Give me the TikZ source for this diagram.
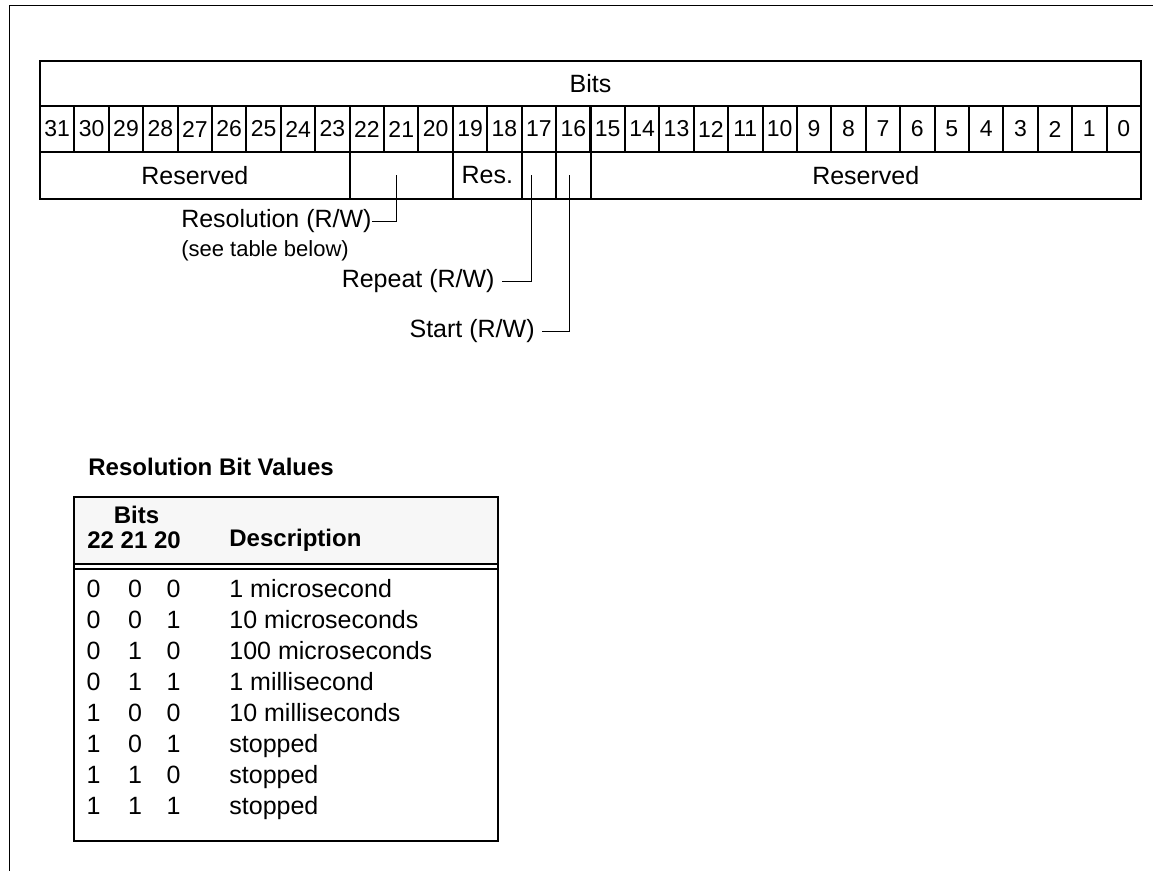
\documentclass[tikz,border=0pt]{standalone}
\usepackage{fontspec}
\setmainfont{Liberation Sans}
\usetikzlibrary{positioning, calc}

\begin{document}
\begin{tikzpicture}[
    x=0.5pt, y=-0.5pt,
    font=\fontsize{12.5}{15}\selectfont,
    field/.style={draw, line width=1pt, inner sep=0pt, minimum height=#1},
    cell/.style={draw, line width=1pt, inner sep=0pt, minimum width=17.2pt, minimum height=23pt,
      font=\fontsize{11.5}{14}\selectfont},
    leader/.style={line width=0.5pt},
    lbl/.style={inner sep=0pt, anchor=east, text height=0.72em, text depth=0.21em},
    note/.style={inner sep=0pt, font=\fontsize{11}{13}\selectfont},
    hdr/.style={inner sep=0pt, font=\fontsize{12}{14}\selectfont\bfseries},
    val/.style={inner sep=0pt, text height=0.72em, text depth=0.21em},
  ]
  \useasboundingbox (0,0) rectangle (1153,871);

  % Page frame (top and left edge only)
  \draw[line width=0.5pt] (9,871) -- (9,6) -- (1153,6);

  % Register - header row
  \node[field=22.5pt, minimum width=550.5pt] (bits_hdr) at (590.5,83.5) {Bits};

  % Register - bit numbers
  \foreach \b in {0,...,31}
    \node[cell] (b\b) at ({40+(31-\b+0.5)*34.406},129) {\b};

  % Register - fields
  \node[field=23.5pt, minimum width=154.85pt] (rsvd_hi) at (194.85,175.5) {Reserved};
  \node[field=23.5pt, minimum width=51.6pt] (res_field) at (401.3,175.5) {};
  \node[field=23.5pt, minimum width=34.4pt] (rsvd_mid) at (487.3,175.5) {Res.};
  \node[field=23.5pt, minimum width=17.2pt] (rep_field) at (538.9,175.5) {};
  \node[field=23.5pt, minimum width=17.2pt] (start_field) at (573.3,175.5) {};
  \node[field=23.5pt, minimum width=275.25pt] (rsvd_lo) at (865.75,175.5) {Reserved};

  % Field labels
  \node[lbl] (res_lbl) at (372,222) {Resolution (R/W)};
  \node[note, below=4pt of res_lbl.south west, anchor=north west] (res_note) {(see table below)};
  \node[lbl] (rep_lbl) at (495,282) {Repeat (R/W)};
  \node[lbl] (start_lbl) at (535,332) {Start (R/W)};

  % Leader lines
  \draw[leader] ([xshift=-2.3pt]res_field.center) |- (res_lbl.east);
  \draw[leader] ([xshift=-3.6pt]rep_field.center) |- ([xshift=3.5pt]rep_lbl.east);
  \draw[leader] ([xshift=-2pt]start_field.center) |- ([xshift=3.5pt]start_lbl.east);

  % Resolution table
  \node[hdr, anchor=west] (tbl_title) at (88,467) {Resolution Bit Values};
  \fill[gray!6] (74,497) rectangle (498,564);
  \node[draw, line width=1pt, minimum width=212pt, minimum height=172pt] (tbl) at (286,669) {};
  \draw[line width=1pt] (tbl.west |- 0,564) -- (tbl.east |- 0,564);
  \draw[line width=1pt] (tbl.west |- 0,569) -- (tbl.east |- 0,569);

  \node[hdr] (hdr_bits) at (136.5,515) {Bits};
  \node[hdr, anchor=west] (hdr_nums) at (87,540) {22 21 20};
  \node[hdr, anchor=west] (hdr_desc) at (229,540) {Description};

  \foreach \p/\q/\r/\d [count=\i from 0] in {
      0/0/0/1 microsecond, 0/0/1/10 microseconds, 0/1/0/100 microseconds,
      0/1/1/1 millisecond, 1/0/0/10 milliseconds, 1/0/1/stopped,
      1/1/0/stopped, 1/1/1/stopped} {
    \node[val] (bit22_\i) at (93.5,{592+31*\i}) {\p};
    \node[val] (bit21_\i) at (135,{592+31*\i}) {\q};
    \node[val] (bit20_\i) at (173.5,{592+31*\i}) {\r};
    \node[val, anchor=west] (desc_\i) at (229,{592+31*\i}) {\d};
  }

\end{tikzpicture}
\end{document}
